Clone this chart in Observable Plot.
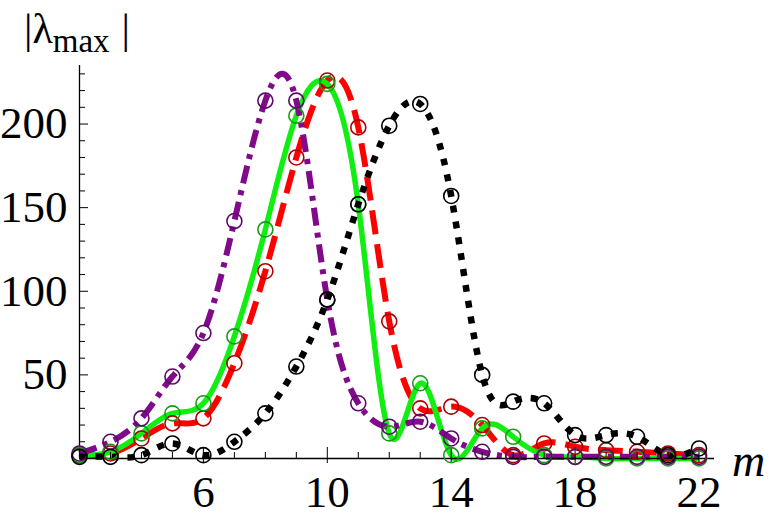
<!DOCTYPE html>
<html><head><meta charset="utf-8">
<script src="https://cdn.jsdelivr.net/npm/d3@7"></script>
<script src="https://cdn.jsdelivr.net/npm/@observablehq/plot@0.6"></script>
<style>
body{margin:0;background:#fff}
#wrap{position:relative;width:772px;height:518px;font-family:"Liberation Serif","Times New Roman",Times,serif;color:#000}
#ylab{position:absolute;left:24px;top:8px;font-size:42px;line-height:1;white-space:nowrap}
#ylab sub{font-size:33px;vertical-align:-9px}
#ylab .bar2{margin-left:12px}
#xlab{position:absolute;left:732px;top:438px;font-size:46px;font-style:italic;line-height:1}
</style></head><body>
<div id="wrap"><div id="chart"></div><div id="ylab">|λ<sub>max</sub><span class="bar2">|</span></div><div id="xlab">m</div></div>
<script>
const m = [2,3,4,5,6,7,8,9,10,11,12,13,14,15,16,17,18,19,20,21,22];
const purple = [3,10,24,49,75,142,214,214,95,33,19,22,12,4,1,1,1,1,1,1,1];
const green  = [2,4,15,27,33,73,137,205,224,152,15,45,2,18,13,2,1,0,0,0,0];
const red    = [2,3,12,21,24,57,112,180,226,198,82,30,31,20,2,9,7,5,4,3,2];
const black  = [1,1,2,9,2,10,27,55,95,152,199,212,157,50,34,33,14,14,13,2,6];
const yMajor = [50,100,150,200];
const yMinor = [10,20,30,40,60,70,80,90,110,120,130,140,160,170,180,190,210,220,230];
const xMajor = [6,10,14,18,22];
const xMinor = [3,4,5,7,8,9,11,12,13,15,16,17,19,20,21];

const series = [
  {vals: red,    line:"#ff0000", circ:"#b00000", dash:"24,10", w:6},
  {vals: green,  line:"#11ee11", circ:"#1a9a1a", dash:null, w:5.5},
  {vals: purple, line:"#800a8a", circ:"#5c0a6a", dash:"18,7,5,7", w:6},
  {vals: black,  line:"#000000", circ:"#000000", dash:"7,9", w:6.5}
];
const rows = s => m.map((x,i)=>({m:x, v:s.vals[i]}));

const plot = Plot.plot({
  width:772, height:518,
  marginLeft:79, marginRight:58, marginTop:65, marginBottom:60,
  x:{domain:[2,22.5]}, y:{domain:[0,235]},
  style:{fontFamily:"'Liberation Serif','Times New Roman',Times,serif", fontSize:"45px", background:"white", color:"black"},
  marks:[
    ...series.map(s => Plot.line(rows(s), {x:"m", y:"v", stroke:s.line, strokeWidth:s.w,
        strokeDasharray:s.dash, strokeLinecap:"butt", curve:"natural"})),
    Plot.ruleX([2], {stroke:"black", strokeWidth:1.3}),
    Plot.ruleY([0], {stroke:"black", strokeWidth:1.3}),
    Plot.axisY(yMinor, {tickSize:6, dx:6, text:null, label:null}),
    Plot.axisY(yMajor, {tickSize:9, dx:9, text:null, label:null}),
    Plot.axisY(yMajor, {tickSize:0, tickPadding:12, label:null, fontSize:45}),
    Plot.axisX(xMinor, {tickSize:6, dy:-6, text:null, label:null}),
    Plot.axisX(xMajor, {tickSize:16, dy:-11, text:null, label:null}),
    Plot.axisX(xMajor, {tickSize:0, tickPadding:17, label:null, fontSize:45}),
    ...series.map(s => Plot.dot(rows(s), {x:"m", y:"v", r:7.5, stroke:s.circ, strokeWidth:1.6, fill:"none"}))
  ]
});
document.getElementById("chart").appendChild(plot);
</script>
</body></html>
